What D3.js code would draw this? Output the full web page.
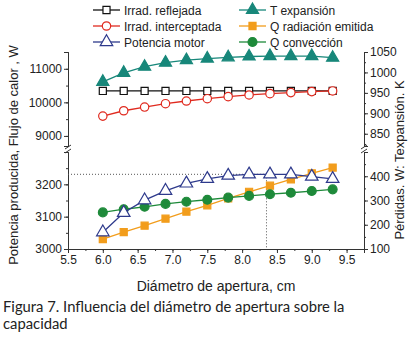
<!DOCTYPE html>
<html>
<head>
<meta charset="utf-8">
<script src="https://cdn.jsdelivr.net/npm/d3@7"></script>
<style>
  body { margin: 0; background: #fff; }
  svg text { font-family: "Liberation Sans", Arial, sans-serif; fill: #222; }
  .axis path, .axis line { stroke: #333; }
  .caption { font-family: Lato, "Open Sans", sans-serif; font-size: 14.8px; }
</style>
</head>
<body>
<svg id="chart"></svg>
<script>
// aperture diameter, cm
const diametro = [6.0, 6.3, 6.6, 6.9, 7.2, 7.5, 7.8, 8.1, 8.4, 8.7, 9.0, 9.3];

// left axis (W), upper segment
const irradReflejada = [10340, 10340, 10340, 10340, 10340, 10340, 10340, 10340, 10340, 10340, 10340, 10340];
const irradInterceptada = [9590, 9750, 9860, 9960, 10040, 10110, 10170, 10220, 10260, 10290, 10320, 10340];
// left axis (W), lower segment
const potenciaMotor = [3052, 3112, 3151, 3180, 3203, 3217, 3227, 3231, 3231, 3231, 3224, 3217];
// right axis (K), upper segment
const tExpansion = [977, 999, 1014, 1024, 1030, 1034, 1037, 1039, 1040, 1040, 1040, 1036];
// right axis (W), lower segment
const qRadiacion = [141, 170, 196, 225, 254, 280, 309, 336, 361, 387, 412, 436];
const qConveccion = [251, 264, 274, 286, 295, 303, 312, 319, 326, 332, 339, 346];

const xTicks = [5.5, 6.0, 6.5, 7.0, 7.5, 8.0, 8.5, 9.0, 9.5];
const optimo = {x: 8.35, y: 3231};

const width = 417, height = 338;
const left = 68, right = 364;
const topSeg = [52, 146], botSeg = [152, 249];

const svg = d3.select("#chart").attr("width", width).attr("height", height);

const x = d3.scaleLinear().domain([5.5, 9.75]).range([left, right]);
const yTopL = d3.scaleLinear().domain([8700, 11500]).range([topSeg[1], topSeg[0]]);
const yBotL = d3.scaleLinear().domain([3000, 3300]).range([botSeg[1], botSeg[0]]);
const yTopR = d3.scaleLinear().domain([820, 1050]).range([topSeg[1], topSeg[0]]);
const yBotR = d3.scaleLinear().domain([100, 500]).range([botSeg[1], botSeg[0]]);

function fmt1(d) { return d3.format(".1f")(d); }

// axes helpers: major + minor ticks
function drawAxis(axisFn, scale, major, minor, transform, fmt) {
    const g = svg.append("g").attr("class", "axis").attr("transform", transform);
    g.call(axisFn(scale).tickValues(minor).tickSize(2).tickFormat(""));
    const g2 = svg.append("g").attr("class", "axis").attr("transform", transform);
    g2.call(axisFn(scale).tickValues(major).tickSize(4).tickPadding(2).tickFormat(fmt || (d => d)));
    g2.selectAll("text").style("font-size", "12px");
    return g2;
}

// x axis
drawAxis(d3.axisBottom, x, xTicks, d3.range(5.5, 9.76, 0.25), `translate(0,${botSeg[1]})`, fmt1);

// left axes
drawAxis(d3.axisLeft, yTopL, [9000, 10000, 11000], d3.range(9000, 11501, 500), `translate(${left},0)`);
drawAxis(d3.axisLeft, yBotL, [3000, 3100, 3200], d3.range(3000, 3301, 50), `translate(${left},0)`);
// right axes
drawAxis(d3.axisRight, yTopR, [850, 900, 950, 1000, 1050], d3.range(825, 1051, 25), `translate(${right},0)`);
drawAxis(d3.axisRight, yBotR, [100, 200, 300, 400], d3.range(100, 501, 50), `translate(${right},0)`);

// break marks
[left, right].forEach(ax => {
    [topSeg[1] + 1, botSeg[0] - 1].forEach(yy => {
        svg.append("line")
            .attr("x1", ax - 3).attr("y1", yy + 2)
            .attr("x2", ax + 3).attr("y2", yy - 2)
            .attr("stroke", "#333").attr("stroke-width", 1);
    });
});

// dotted guide lines at the motor power maximum
svg.append("line")
    .attr("x1", left).attr("x2", x(optimo.x))
    .attr("y1", yBotL(optimo.y)).attr("y2", yBotL(optimo.y))
    .attr("stroke", "#555").attr("stroke-dasharray", "1,2");
svg.append("line")
    .attr("x1", x(optimo.x)).attr("x2", x(optimo.x))
    .attr("y1", yBotL(optimo.y)).attr("y2", botSeg[1])
    .attr("stroke", "#555").attr("stroke-dasharray", "1,2");

const series = [
    {name: "Irrad. reflejada", vals: irradReflejada, y: yTopL, color: "#111", fill: "#fff", sym: d3.symbolSquare, size: 50},
    {name: "Irrad. interceptada", vals: irradInterceptada, y: yTopL, color: "#e02a1f", fill: "#fff", sym: d3.symbolCircle, size: 55},
    {name: "Potencia motor", vals: potenciaMotor, y: yBotL, color: "#2e3a8c", fill: "#fff", sym: d3.symbolTriangle, size: 68},
    {name: "T expansión", vals: tExpansion, y: yTopR, color: "#17877a", fill: "#17877a", sym: d3.symbolTriangle, size: 64},
    {name: "Q radiación emitida", vals: qRadiacion, y: yBotR, color: "#f29d1c", fill: "#f29d1c", sym: d3.symbolSquare, size: 50},
    {name: "Q convección", vals: qConveccion, y: yBotR, color: "#1e8a3a", fill: "#1e8a3a", sym: d3.symbolCircle, size: 62}
];

const drawOrder = [3, 0, 1, 4, 5, 2];
drawOrder.forEach(i => {
    const s = series[i];
    const line = d3.line().x((d, j) => x(diametro[j])).y(d => s.y(d));
    svg.append("path").datum(s.vals)
        .attr("d", line).attr("fill", "none")
        .attr("stroke", s.color).attr("stroke-width", 1.3);
    svg.append("g").selectAll("path").data(s.vals).join("path")
        .attr("transform", (d, j) => `translate(${x(diametro[j])},${s.y(d)})`)
        .attr("d", d3.symbol().type(s.sym).size(s.size))
        .attr("fill", s.fill).attr("stroke", s.color).attr("stroke-width", 1.2);
});

// legend
const legendCols = [[0, 1, 2], [3, 4, 5]];
const colX = [93, 239];
legendCols.forEach((col, c) => {
    col.forEach((i, r) => {
        const s = series[i];
        const ly = 10 + r * 16;
        const g = svg.append("g").attr("transform", `translate(${colX[c]},${ly})`);
        g.append("line").attr("x1", 0).attr("x2", 27).attr("stroke", s.color).attr("stroke-width", 1.3);
        g.append("path").attr("transform", "translate(13.5,0)")
            .attr("d", d3.symbol().type(s.sym).size(s.size))
            .attr("fill", s.fill).attr("stroke", s.color).attr("stroke-width", 1.2);
        g.append("text").attr("x", 31).attr("y", 4.5).style("font-size", "12px").text(s.name);
    });
});

// axis titles
svg.append("text")
    .attr("transform", `translate(18,155) rotate(-90)`)
    .attr("text-anchor", "middle").style("font-size", "13px")
    .text("Potencia producida, Flujo de calor , W");
svg.append("text")
    .attr("transform", `translate(404,160) rotate(-90)`)
    .attr("text-anchor", "middle").style("font-size", "13px")
    .text("Pérdidas. W: Texpansión. K");
svg.append("text")
    .attr("x", (left + right) / 2).attr("y", 291)
    .attr("text-anchor", "middle").style("font-size", "14px")
    .text("Diámetro de apertura, cm");

// caption
svg.append("text").attr("class", "caption").attr("x", 3).attr("y", 312)
    .text("Figura 7. Influencia del diámetro de apertura sobre la");
svg.append("text").attr("class", "caption").attr("x", 3).attr("y", 329)
    .text("capacidad");
</script>
</body>
</html>
